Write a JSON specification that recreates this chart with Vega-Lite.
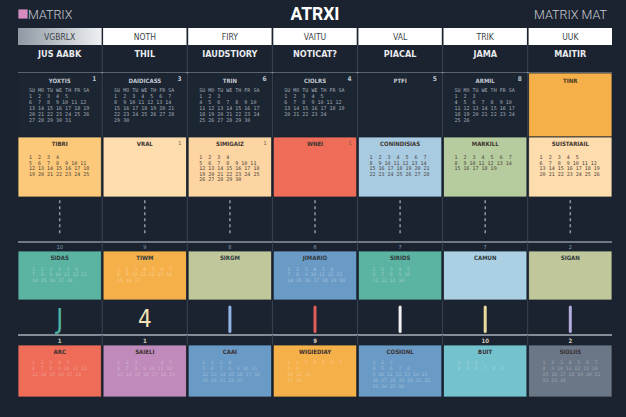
{
  "$schema": "https://vega.github.io/schema/vega-lite/v6.json",
  "background": "#1b2330",
  "padding": {"left": 17, "right": 15, "top": 0, "bottom": 20},
  "bounds": "flush",
  "spacing": 0,
  "config": {"view": {"stroke": null}, "concat": {"spacing": 0}, "text": {"font": "DejaVu Sans Condensed, DejaVu Sans, sans-serif"}},
  "datasets": {
    "title": [
      {"part": "left", "col": 0, "text": "MATRIX"},
      {"part": "center", "col": 3, "text": "ATRXI"},
      {"part": "right", "col": 6, "text": "MATRIX MAT"}
    ],
    "head": [
      {"col": 0, "label": "VGBRLX"}, {"col": 1, "label": "NOTH"}, {"col": 2, "label": "FIRY"},
      {"col": 3, "label": "VAITU"}, {"col": 4, "label": "VAL"}, {"col": 5, "label": "TRIK"}, {"col": 6, "label": "UUK"}
    ],
    "sub": [
      {"col": 0, "label": "JUS AABK"}, {"col": 1, "label": "THIL"}, {"col": 2, "label": "IAUDSTIORY"},
      {"col": 3, "label": "NOTICAT?"}, {"col": 4, "label": "PIACAL"}, {"col": 5, "label": "JAMA"}, {"col": 6, "label": "MAITIR"}
    ],
    "r1": [
      {"col": 0, "label": "YOXTIS", "num": "1", "tone": "dark", "cal": "SU MO TU WE TH FR SA\n\u00a0\u00a0 \u00a0\u00a0 \u00a01 \u00a02 \u00a03 \u00a04 \u00a05\n\u00a06 \u00a07 \u00a08 \u00a09 10 11 12\n13 14 15 16 17 18 19\n20 21 22 23 24 25 26\n27 28 29 30 31"},
      {"col": 1, "label": "DAIDICASS", "num": "3", "tone": "dark", "cal": "SU MO TU WE TH FR SA\n\u00a01 \u00a02 \u00a03 \u00a04 \u00a05 \u00a06 \u00a07\n\u00a08 \u00a09 10 11 12 13 14\n15 16 17 18 19 20 21\n22 23 24 25 26 27 28\n29 30"},
      {"col": 2, "label": "TRIN", "num": "6", "tone": "dark", "cal": "SU MO TU WE TH FR SA\n\u00a0\u00a0 \u00a0\u00a0 \u00a0\u00a0 \u00a0\u00a0 \u00a01 \u00a02 \u00a03\n\u00a04 \u00a05 \u00a06 \u00a07 \u00a08 \u00a09 10\n11 12 13 14 15 16 17\n18 19 20 21 22 23 24\n25 26 27 28 29 30"},
      {"col": 3, "label": "CIOLRS", "num": "4", "tone": "dark", "cal": "SU MO TU WE TH FR SA\n\u00a0\u00a0 \u00a0\u00a0 \u00a01 \u00a02 \u00a03 \u00a04 \u00a05\n\u00a06 \u00a07 \u00a08 \u00a09 10 11 12\n13 14 15 16 17 18 19\n20 21 22 23 24"},
      {"col": 4, "label": "PTFI", "num": "5", "tone": "dark", "cal": ""},
      {"col": 5, "label": "ARMIL", "num": "8", "tone": "dark", "cal": "SU MO TU WE TH FR SA\n\u00a0\u00a0 \u00a0\u00a0 \u00a0\u00a0 \u00a0\u00a0 \u00a01 \u00a02 \u00a03\n\u00a04 \u00a05 \u00a06 \u00a07 \u00a08 \u00a09 10\n11 12 13 14 15 16 17\n18 19 20 21 22 23 24\n25 26"},
      {"col": 6, "label": "TINR", "num": "", "tone": "orange", "cal": ""}
    ],
    "r2": [
      {"col": 0, "label": "TIBRI", "num": "", "tone": "lorange", "cal": "\u00a0\u00a0 \u00a0\u00a0 \u00a0\u00a0 \u00a01 \u00a02 \u00a03 \u00a04\n\u00a05 \u00a06 \u00a07 \u00a08 \u00a09 10 11\n12 13 14 15 16 17 18\n19 20 21 22 23 24 25"},
      {"col": 1, "label": "VRAL", "num": "1", "tone": "peach", "cal": ""},
      {"col": 2, "label": "SIMIGAIZ", "num": "1", "tone": "peach2", "cal": "\u00a0\u00a0 \u00a0\u00a0 \u00a0\u00a0 \u00a01 \u00a02 \u00a03 \u00a04\n\u00a05 \u00a06 \u00a07 \u00a08 \u00a09 10 11\n12 13 14 15 16 17 18\n19 20 21 22 23 24 25\n26 27 28 29 30"},
      {"col": 3, "label": "WNEI", "num": "1", "tone": "red", "cal": ""},
      {"col": 4, "label": "CONINDISIAS", "num": "", "tone": "sky", "cal": "\u00a01 \u00a02 \u00a03 \u00a04 \u00a05 \u00a06 \u00a07\n\u00a08 \u00a09 10 11 12 13 14\n15 16 17 18 19 20 21\n22 23 24 25 26 27 28"},
      {"col": 5, "label": "MARKILL", "num": "", "tone": "sage", "cal": "\u00a01 \u00a02 \u00a03 \u00a04 \u00a05 \u00a06 \u00a07\n\u00a08 \u00a09 10 11 12 13 14\n15 16 17 18 19"},
      {"col": 6, "label": "SUISTARIAIL", "num": "", "tone": "peach", "cal": "\u00a0\u00a0 \u00a0\u00a0 \u00a01 \u00a02 \u00a03 \u00a04 \u00a05\n\u00a06 \u00a07 \u00a08 \u00a09 10 11 12\n13 14 15 16 17 18 19\n20 21 22 23 24 25 26"}
    ],
    "gap": [
      {"col": 0}, {"col": 1}, {"col": 2}, {"col": 3}, {"col": 4}, {"col": 5}, {"col": 6}
    ],
    "n1": [
      {"col": 0, "num": "10"}, {"col": 1, "num": "9"}, {"col": 2, "num": "8"}, {"col": 3, "num": "6"},
      {"col": 4, "num": "7"}, {"col": 5, "num": "7"}, {"col": 6, "num": "2"}
    ],
    "r4": [
      {"col": 0, "label": "SIDAS", "tone": "teal", "cal": "\u00a0\u00a0 \u00a01 \u00a02 \u00a03 \u00a04 \u00a05 \u00a06\n\u00a07 \u00a08 \u00a09 10 11 12 13\n14 15 16 17 18"},
      {"col": 1, "label": "TIWM", "tone": "orange", "cal": "\u00a01 \u00a02 \u00a03 \u00a04 \u00a05 \u00a06 \u00a07\n\u00a08 \u00a09 10 11 12 13 14\n15 16 17"},
      {"col": 2, "label": "SIRGM", "tone": "olive", "cal": ""},
      {"col": 3, "label": "JIMARIO", "tone": "steel", "cal": "\u00a0\u00a0 \u00a01 \u00a02 \u00a03 \u00a04 \u00a05 \u00a06\n\u00a07 \u00a08 \u00a09 10 11 12 13\n14 15 16 17 18 19 20"},
      {"col": 4, "label": "SIRIDS", "tone": "teal", "cal": "\u00a01 \u00a02 \u00a03 \u00a04 \u00a05\n\u00a06 \u00a07 \u00a08 \u00a09 10\n11 12 13 14"},
      {"col": 5, "label": "CAMUN", "tone": "pale", "cal": ""},
      {"col": 6, "label": "SIGAN", "tone": "olive", "cal": ""}
    ],
    "r5": [
      {"col": 0, "glyph": "J", "tone": "aTeal"},
      {"col": 1, "glyph": "4", "tone": "aWhite"},
      {"col": 2, "glyph": "", "tone": "aBlue"},
      {"col": 3, "glyph": "", "tone": "aRed"},
      {"col": 4, "glyph": "", "tone": "aWhite"},
      {"col": 5, "glyph": "", "tone": "aYellow"},
      {"col": 6, "glyph": "", "tone": "aLav"}
    ],
    "n2": [
      {"col": 0, "num": "1"}, {"col": 1, "num": "1"}, {"col": 2, "num": ""}, {"col": 3, "num": "9"},
      {"col": 4, "num": ""}, {"col": 5, "num": "10"}, {"col": 6, "num": "2"}
    ],
    "r6": [
      {"col": 0, "label": "ARC", "tone": "red", "cal": "\u00a0\u00a0 \u00a0\u00a0 \u00a01 \u00a02 \u00a03 \u00a04 \u00a05\n\u00a06 \u00a07 \u00a08 \u00a09 10 11 12\n13 14 15 16 17 18"},
      {"col": 1, "label": "SAIELI", "tone": "purple", "cal": "\u00a01 \u00a02 \u00a03 \u00a0\u00a0 \u00a0\u00a0 \u00a04 \u00a05\n\u00a06 \u00a07 \u00a08 \u00a09 10 11 12\n13 14 15 16 17 18 19"},
      {"col": 2, "label": "CAAI", "tone": "steel", "cal": "\u00a0\u00a0 \u00a0\u00a0 \u00a0\u00a0 \u00a01 \u00a02 \u00a03 \u00a04\n\u00a05 \u00a06 \u00a07 \u00a08 \u00a09 10 11\n12 13 14 15 16 17 18\n19 20 21 22 23"},
      {"col": 3, "label": "WIGIEDIAY", "tone": "orange", "cal": "\u00a01 \u00a02 \u00a03 \u00a04 \u00a05 \u00a06 \u00a07\n\u00a08 \u00a09\n10 11 12\n13 14"},
      {"col": 4, "label": "COSIONL", "tone": "steel", "cal": "\u00a0\u00a0 \u00a0\u00a0 \u00a0\u00a0 \u00a0\u00a0 \u00a01 \u00a02 \u00a03\n\u00a0\u00a0 \u00a0\u00a0 \u00a04 \u00a05 \u00a06 \u00a07 \u00a08\n\u00a09 10 11 12 13 14 15\n16 17 18 19 20 21 22\n23 24 25 26"},
      {"col": 5, "label": "BUIT", "tone": "cyan", "cal": "\u00a0\u00a0 \u00a0\u00a0 \u00a0\u00a0 \u00a01 \u00a02 \u00a03\n\u00a04 \u00a05 \u00a06 \u00a07 \u00a08 \u00a09"},
      {"col": 6, "label": "SIOLIIS", "tone": "slate", "cal": "\u00a01 \u00a02 \u00a03 \u00a04 \u00a05 \u00a06 \u00a07\n\u00a08 \u00a09 10 11 12 13 14\n15 16 17 18 19 20 21\n22 23 24"}
    ]
  },
  "vconcat": [
    {
      "width": 594, "height": 28,
      "data": {"name": "title"},
      "layer": [
        {"transform": [{"filter": "datum.part == 'left'"}],
         "mark": {"type": "point", "shape": "square", "filled": true, "size": 85, "color": "#d68cc1", "opacity": 1, "xOffset": 5},
         "encoding": {"x": {"field": "col", "type": "ordinal", "bandPosition": 0, "scale": {"type": "band", "domain": [0,1,2,3,4,5,6], "paddingInner": 0.02, "paddingOuter": 0}, "axis": null}}},
        {"transform": [{"filter": "datum.part == 'left'"}],
         "mark": {"type": "text", "align": "left", "dx": 10, "dy": 1, "fontSize": 12.5, "font": "Roboto", "fontWeight": 300, "color": "#c9cdd3"},
         "encoding": {"x": {"field": "col", "type": "ordinal", "bandPosition": 0, "scale": {"type": "band", "domain": [0,1,2,3,4,5,6], "paddingInner": 0.02, "paddingOuter": 0}, "axis": null}, "text": {"field": "text"}}},
        {"transform": [{"filter": "datum.part == 'center'"}],
         "mark": {"type": "text", "fontSize": 17.5, "font": "Roboto", "fontWeight": "bold", "color": "#ffffff", "dy": 1},
         "encoding": {"text": {"field": "text"}}},
        {"transform": [{"filter": "datum.part == 'right'"}],
         "mark": {"type": "text", "align": "right", "dx": -5, "dy": 1, "fontSize": 12.5, "font": "Roboto", "fontWeight": 300, "color": "#c9cdd3"},
         "encoding": {"x": {"field": "col", "type": "ordinal", "bandPosition": 1, "scale": {"type": "band", "domain": [0,1,2,3,4,5,6], "paddingInner": 0.02, "paddingOuter": 0}, "axis": null}, "text": {"field": "text"}}}
      ]
    },
    {
      "width": 594, "height": 17,
      "data": {"name": "head"},
      "encoding": {"x": {"field": "col", "type": "ordinal", "scale": {"type": "band", "domain": [0,1,2,3,4,5,6], "paddingInner": 0.02, "paddingOuter": 0}, "axis": null}},
      "layer": [
        {"mark": {"type": "rect", "color": "#ffffff"}},
        {"transform": [{"filter": "datum.col == 0"}],
         "mark": {"type": "rect", "color": {"gradient": "linear", "x1": 0, "x2": 1, "y1": 0, "y2": 0, "stops": [{"offset": 0, "color": "#8f99a4"}, {"offset": 1, "color": "#eef0f2"}]}}},
        {"mark": {"type": "text", "fontSize": 8.5, "color": "#3a3f46", "dy": 0.5},
         "encoding": {"text": {"field": "label"}}}
      ]
    },
    {
      "width": 594, "height": 28,
      "data": {"name": "sub"},
      "encoding": {"x": {"field": "col", "type": "ordinal", "scale": {"type": "band", "domain": [0,1,2,3,4,5,6], "paddingInner": 0.02, "paddingOuter": 0}, "axis": null}},
      "layer": [
        {"transform": [{"filter": "datum.col > 0"}],
         "mark": {"type": "rule", "color": "#394453", "strokeWidth": 1, "xOffset": -0.9},
         "encoding": {"x": {"field": "col", "type": "ordinal", "bandPosition": 0, "scale": {"type": "band", "domain": [0,1,2,3,4,5,6], "paddingInner": 0.02, "paddingOuter": 0}, "axis": null}}},
        {"mark": {"type": "text", "fontSize": 9, "fontWeight": "bold", "color": "#e8eaee", "dy": -5.5},
         "encoding": {"text": {"field": "label"}}},
        {"transform": [{"filter": "datum.col == 0"}],
         "mark": {"type": "rule", "color": "#a9b0b9", "strokeWidth": 1.5},
         "encoding": {"x": null, "y": {"datum": 0, "type": "quantitative", "scale": {"domain": [0, 1]}, "axis": null}}}
      ]
    },
    {
      "width": 594, "height": 64,
      "data": {"name": "r1"},
      "encoding": {"x": {"field": "col", "type": "ordinal", "scale": {"type": "band", "domain": [0,1,2,3,4,5,6], "paddingInner": 0.02, "paddingOuter": 0}, "axis": null}},
      "layer": [
        {"mark": {"type": "rect", "stroke": "#1b2330", "strokeWidth": 0.8},
         "encoding": {"color": {"field": "tone", "type": "nominal", "legend": null,
           "scale": {"domain": ["dark","orange","lorange","peach","peach2","red","sky","sage","teal","olive","steel","pale","purple","cyan","slate","aTeal","aBlue","aRed","aWhite","aYellow","aLav"],
                     "range": ["#1c2532","#f6b049","#fcc97a","#fddcae","#fcd5a3","#ee6c58","#a9cbe1","#b7cc9e","#5bb3a2","#c0c89b","#6a9bc6","#abd0e3","#c08bba","#73c2cd","#6b7787","#4db5a2","#93b4e6","#df5d57","#f2f2f2","#e8db9c","#b3acdc"]}}}},
        {"transform": [{"filter": "datum.col > 0"}],
         "mark": {"type": "rule", "color": "#394453", "strokeWidth": 1, "xOffset": -0.9},
         "encoding": {"x": {"field": "col", "type": "ordinal", "bandPosition": 0, "scale": {"type": "band", "domain": [0,1,2,3,4,5,6], "paddingInner": 0.02, "paddingOuter": 0}, "axis": null}}},
        {"transform": [{"filter": "datum.col < 6"}],
         "mark": {"type": "text", "fontSize": 6, "fontWeight": "bold", "color": "#c4cad2", "dy": -24},
         "encoding": {"text": {"field": "label"}}},
        {"transform": [{"filter": "datum.col == 6"}],
         "mark": {"type": "text", "fontSize": 6, "fontWeight": "bold", "color": "#4a3a20", "dy": -24},
         "encoding": {"text": {"field": "label"}}},
        {"mark": {"type": "text", "fontSize": 6.5, "fontWeight": "bold", "color": "#b9c6cc", "align": "right", "dx": -5, "dy": -26},
         "encoding": {"x": {"field": "col", "type": "ordinal", "bandPosition": 1, "scale": {"type": "band", "domain": [0,1,2,3,4,5,6], "paddingInner": 0.02, "paddingOuter": 0}, "axis": null}, "text": {"field": "num"}}},
        {"mark": {"type": "text", "font": "DejaVu Sans Mono", "fontSize": 5, "lineBreak": "\n", "lineHeight": 6, "baseline": "top", "align": "left", "color": "#a4aeb8", "dx": 11, "dy": -17},
         "encoding": {"x": {"field": "col", "type": "ordinal", "bandPosition": 0, "scale": {"type": "band", "domain": [0,1,2,3,4,5,6], "paddingInner": 0.02, "paddingOuter": 0}, "axis": null}, "text": {"field": "cal"}}}
      ]
    },
    {
      "width": 594, "height": 60,
      "data": {"name": "r2"},
      "encoding": {"x": {"field": "col", "type": "ordinal", "scale": {"type": "band", "domain": [0,1,2,3,4,5,6], "paddingInner": 0.02, "paddingOuter": 0}, "axis": null}},
      "layer": [
        {"mark": {"type": "rect", "stroke": "#1b2330", "strokeWidth": 0.8},
         "encoding": {"color": {"field": "tone", "type": "nominal", "legend": null,
           "scale": {"domain": ["dark","orange","lorange","peach","peach2","red","sky","sage","teal","olive","steel","pale","purple","cyan","slate","aTeal","aBlue","aRed","aWhite","aYellow","aLav"],
                     "range": ["#1c2532","#f6b049","#fcc97a","#fddcae","#fcd5a3","#ee6c58","#a9cbe1","#b7cc9e","#5bb3a2","#c0c89b","#6a9bc6","#abd0e3","#c08bba","#73c2cd","#6b7787","#4db5a2","#93b4e6","#df5d57","#f2f2f2","#e8db9c","#b3acdc"]}}}},
        {"mark": {"type": "text", "fontSize": 6, "fontWeight": "bold", "color": "#3c3530", "dy": -23},
         "encoding": {"text": {"field": "label"}}},
        {"mark": {"type": "text", "fontSize": 5.5, "color": "#6b5a48", "align": "right", "dx": -5, "dy": -24},
         "encoding": {"x": {"field": "col", "type": "ordinal", "bandPosition": 1, "scale": {"type": "band", "domain": [0,1,2,3,4,5,6], "paddingInner": 0.02, "paddingOuter": 0}, "axis": null}, "text": {"field": "num"}}},
        {"mark": {"type": "text", "font": "DejaVu Sans Mono", "fontSize": 5, "lineBreak": "\n", "lineHeight": 5.5, "baseline": "top", "align": "left", "color": "#4a423a", "dx": 11, "dy": -12},
         "encoding": {"x": {"field": "col", "type": "ordinal", "bandPosition": 0, "scale": {"type": "band", "domain": [0,1,2,3,4,5,6], "paddingInner": 0.02, "paddingOuter": 0}, "axis": null}, "text": {"field": "cal"}}}
      ]
    },
    {
      "width": 594, "height": 45,
      "data": {"name": "gap"},
      "encoding": {"x": {"field": "col", "type": "ordinal", "scale": {"type": "band", "domain": [0,1,2,3,4,5,6], "paddingInner": 0.02, "paddingOuter": 0}, "axis": null}},
      "layer": [
        {"transform": [{"filter": "datum.col > 0"}],
         "mark": {"type": "rule", "color": "#394453", "strokeWidth": 1, "xOffset": -0.9},
         "encoding": {"x": {"field": "col", "type": "ordinal", "bandPosition": 0, "scale": {"type": "band", "domain": [0,1,2,3,4,5,6], "paddingInner": 0.02, "paddingOuter": 0}, "axis": null}}},
        {"mark": {"type": "rule", "color": "#8d98a4", "strokeWidth": 1.5, "strokeDash": [3, 3]},
         "encoding": {"y": {"datum": 0.93, "type": "quantitative", "scale": {"domain": [0, 1]}, "axis": null}, "y2": {"datum": 0.13}}},
        {"transform": [{"filter": "datum.col == 0"}],
         "mark": {"type": "rule", "color": "#6f7985", "strokeWidth": 2},
         "encoding": {"x": null, "y": {"datum": 0, "type": "quantitative", "scale": {"domain": [0, 1]}, "axis": null}}}
      ]
    },
    {
      "width": 594, "height": 9,
      "data": {"name": "n1"},
      "encoding": {"x": {"field": "col", "type": "ordinal", "scale": {"type": "band", "domain": [0,1,2,3,4,5,6], "paddingInner": 0.02, "paddingOuter": 0}, "axis": null}},
      "layer": [
        {"transform": [{"filter": "datum.col > 0"}],
         "mark": {"type": "rule", "color": "#394453", "strokeWidth": 1, "xOffset": -0.9},
         "encoding": {"x": {"field": "col", "type": "ordinal", "bandPosition": 0, "scale": {"type": "band", "domain": [0,1,2,3,4,5,6], "paddingInner": 0.02, "paddingOuter": 0}, "axis": null}}},
        {"mark": {"type": "text", "fontSize": 5.5, "color": "#7fa3b8", "dy": 0.5},
         "encoding": {"text": {"field": "num"}}}
      ]
    },
    {
      "width": 594, "height": 49,
      "data": {"name": "r4"},
      "encoding": {"x": {"field": "col", "type": "ordinal", "scale": {"type": "band", "domain": [0,1,2,3,4,5,6], "paddingInner": 0.02, "paddingOuter": 0}, "axis": null}},
      "layer": [
        {"mark": {"type": "rect", "stroke": "#1b2330", "strokeWidth": 0.8},
         "encoding": {"color": {"field": "tone", "type": "nominal", "legend": null,
           "scale": {"domain": ["dark","orange","lorange","peach","peach2","red","sky","sage","teal","olive","steel","pale","purple","cyan","slate","aTeal","aBlue","aRed","aWhite","aYellow","aLav"],
                     "range": ["#1c2532","#f6b049","#fcc97a","#fddcae","#fcd5a3","#ee6c58","#a9cbe1","#b7cc9e","#5bb3a2","#c0c89b","#6a9bc6","#abd0e3","#c08bba","#73c2cd","#6b7787","#4db5a2","#93b4e6","#df5d57","#f2f2f2","#e8db9c","#b3acdc"]}}}},
        {"mark": {"type": "text", "fontSize": 6, "fontWeight": "bold", "color": "#2f3a3c", "dy": -18},
         "encoding": {"text": {"field": "label"}}},
        {"mark": {"type": "text", "font": "DejaVu Sans Mono", "fontSize": 4.8, "lineBreak": "\n", "lineHeight": 5.5, "baseline": "top", "align": "left", "color": "#ffffff", "opacity": 0.35, "dx": 14, "dy": -9},
         "encoding": {"x": {"field": "col", "type": "ordinal", "bandPosition": 0, "scale": {"type": "band", "domain": [0,1,2,3,4,5,6], "paddingInner": 0.02, "paddingOuter": 0}, "axis": null}, "text": {"field": "cal"}}}
      ]
    },
    {
      "width": 594, "height": 35,
      "data": {"name": "r5"},
      "encoding": {"x": {"field": "col", "type": "ordinal", "scale": {"type": "band", "domain": [0,1,2,3,4,5,6], "paddingInner": 0.02, "paddingOuter": 0}, "axis": null}},
      "layer": [
        {"transform": [{"filter": "datum.col > 0"}],
         "mark": {"type": "rule", "color": "#394453", "strokeWidth": 1, "xOffset": -0.9},
         "encoding": {"x": {"field": "col", "type": "ordinal", "bandPosition": 0, "scale": {"type": "band", "domain": [0,1,2,3,4,5,6], "paddingInner": 0.02, "paddingOuter": 0}, "axis": null}}},
        {"transform": [{"filter": "datum.glyph == ''"}],
         "mark": {"type": "rule", "strokeWidth": 3, "strokeCap": "round"},
         "encoding": {
           "y": {"datum": 0.8, "type": "quantitative", "scale": {"domain": [0, 1]}, "axis": null},
           "y2": {"datum": 0.1},
           "color": {"field": "tone", "type": "nominal", "legend": null,
           "scale": {"domain": ["dark","orange","lorange","peach","peach2","red","sky","sage","teal","olive","steel","pale","purple","cyan","slate","aTeal","aBlue","aRed","aWhite","aYellow","aLav"],
                     "range": ["#1c2532","#f6b049","#fcc97a","#fddcae","#fcd5a3","#ee6c58","#a9cbe1","#b7cc9e","#5bb3a2","#c0c89b","#6a9bc6","#abd0e3","#c08bba","#73c2cd","#6b7787","#4db5a2","#93b4e6","#df5d57","#f2f2f2","#e8db9c","#b3acdc"]}}}},
        {"transform": [{"filter": "datum.col == 0"}],
         "mark": {"type": "text", "fontSize": 26, "color": "#4db5a2", "dy": 2},
         "encoding": {"text": {"field": "glyph"}}},
        {"transform": [{"filter": "datum.col == 1"}],
         "mark": {"type": "text", "fontSize": 24, "color": "#f3e3b8", "dy": 2},
         "encoding": {"text": {"field": "glyph"}}},
        {"transform": [{"filter": "datum.col == 0"}],
         "mark": {"type": "rule", "color": "#a9b0b9", "strokeWidth": 1.5},
         "encoding": {"x": null, "y": {"datum": 0, "type": "quantitative", "scale": {"domain": [0, 1]}, "axis": null}}}
      ]
    },
    {
      "width": 594, "height": 10,
      "data": {"name": "n2"},
      "encoding": {"x": {"field": "col", "type": "ordinal", "scale": {"type": "band", "domain": [0,1,2,3,4,5,6], "paddingInner": 0.02, "paddingOuter": 0}, "axis": null}},
      "layer": [
        {"transform": [{"filter": "datum.col > 0"}],
         "mark": {"type": "rule", "color": "#394453", "strokeWidth": 1, "xOffset": -0.9},
         "encoding": {"x": {"field": "col", "type": "ordinal", "bandPosition": 0, "scale": {"type": "band", "domain": [0,1,2,3,4,5,6], "paddingInner": 0.02, "paddingOuter": 0}, "axis": null}}},
        {"mark": {"type": "text", "fontSize": 6, "fontWeight": "bold", "color": "#d6cbbd", "dy": 1},
         "encoding": {"text": {"field": "num"}}}
      ]
    },
    {
      "width": 594, "height": 52,
      "data": {"name": "r6"},
      "encoding": {"x": {"field": "col", "type": "ordinal", "scale": {"type": "band", "domain": [0,1,2,3,4,5,6], "paddingInner": 0.02, "paddingOuter": 0}, "axis": null}},
      "layer": [
        {"mark": {"type": "rect", "stroke": "#1b2330", "strokeWidth": 0.8},
         "encoding": {"color": {"field": "tone", "type": "nominal", "legend": null,
           "scale": {"domain": ["dark","orange","lorange","peach","peach2","red","sky","sage","teal","olive","steel","pale","purple","cyan","slate","aTeal","aBlue","aRed","aWhite","aYellow","aLav"],
                     "range": ["#1c2532","#f6b049","#fcc97a","#fddcae","#fcd5a3","#ee6c58","#a9cbe1","#b7cc9e","#5bb3a2","#c0c89b","#6a9bc6","#abd0e3","#c08bba","#73c2cd","#6b7787","#4db5a2","#93b4e6","#df5d57","#f2f2f2","#e8db9c","#b3acdc"]}}}},
        {"mark": {"type": "text", "fontSize": 6, "fontWeight": "bold", "color": "#3a3030", "dy": -19},
         "encoding": {"text": {"field": "label"}}},
        {"mark": {"type": "text", "font": "DejaVu Sans Mono", "fontSize": 4.8, "lineBreak": "\n", "lineHeight": 6, "baseline": "top", "align": "left", "color": "#ffffff", "opacity": 0.3, "dx": 14, "dy": -11},
         "encoding": {"x": {"field": "col", "type": "ordinal", "bandPosition": 0, "scale": {"type": "band", "domain": [0,1,2,3,4,5,6], "paddingInner": 0.02, "paddingOuter": 0}, "axis": null}, "text": {"field": "cal"}}}
      ]
    }
  ]
}
